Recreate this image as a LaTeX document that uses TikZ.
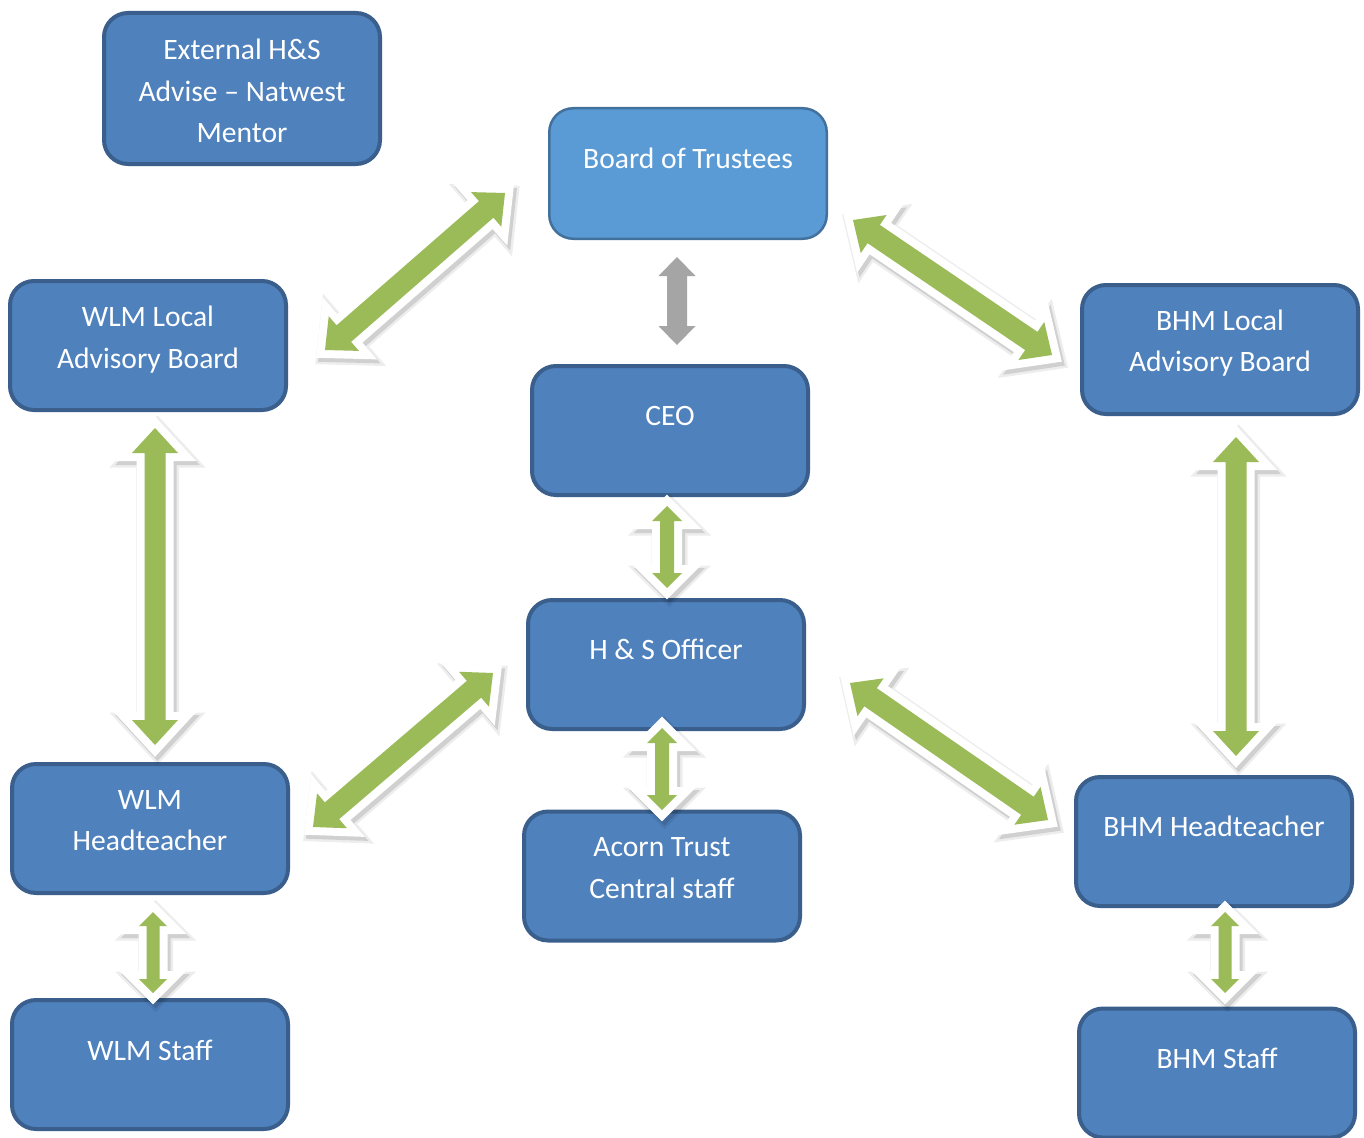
\documentclass[tikz,border=0pt]{standalone}
\usepackage{fontspec}
\setmainfont{Carlito}
\usetikzlibrary{calc}
\definecolor{boxfill}{HTML}{4F81BD}
\definecolor{boxline}{HTML}{3A5F8C}
\definecolor{topfill}{HTML}{5B9BD5}
\definecolor{topline}{HTML}{41719C}
\definecolor{arrgreen}{HTML}{9BBB59}
\definecolor{arrgray}{HTML}{A5A5A5}
% block double arrow between two named coordinates
% #1 from, #2 to, #3 style, #4 head length, #5 head half width, #6 shaft half width
\newcommand\blockarrowpath[6]{%
  \coordinate (tmpP) at ($(#1)!#4!(#2)$);
  \coordinate (tmpQ) at ($(#2)!#4!(#1)$);
  \path[#3] (#1) -- ($(tmpP)!#5!90:(#2)$) -- ($(tmpP)!#6!90:(#2)$)
    -- ($(tmpQ)!#6!-90:(#1)$) -- ($(tmpQ)!#5!-90:(#1)$) -- (#2)
    -- ($(tmpQ)!#5!90:(#1)$) -- ($(tmpQ)!#6!90:(#1)$)
    -- ($(tmpP)!#6!-90:(#2)$) -- ($(tmpP)!#5!-90:(#2)$) -- cycle;}
\newcommand\greenarrow[5]{%
  \blockarrowpath{#1}{#2}{arrshadowA}{#3}{#4}{#5}
  \blockarrowpath{#1}{#2}{arrshadowB}{#3}{#4}{#5}
  \blockarrowpath{#1}{#2}{arroutline}{#3}{#4}{#5}
  \blockarrowpath{#1}{#2}{arrfill}{#3}{#4}{#5}}
\begin{document}
\begin{tikzpicture}[x=1pt,y=-1pt,
  box/.style={draw=boxline, fill=boxfill, line width=4pt, rounded corners=24pt,
    minimum width=276pt, minimum height=129pt, inner sep=0pt},
  topbox/.style={box, draw=topline, fill=topfill, line width=2.5pt,
    minimum width=277.5pt, minimum height=130.5pt},
  txt/.style={text=white, font=\fontsize{29.6}{41.5}\selectfont, align=center,
    inner sep=0pt, execute at begin node=\strut, execute at end node=\strut},
  arrshadowA/.style={draw=black, fill=black, draw opacity=0.07, fill opacity=0.07,
    line width=22pt, line join=miter, transform canvas={shift={(2.5pt,-3.5pt)}}},
  arrshadowB/.style={draw=black, fill=black, draw opacity=0.12, fill opacity=0.12,
    line width=17pt, line join=miter, transform canvas={shift={(2.5pt,-3.5pt)}}},
  arroutline/.style={draw=white, fill=white, line width=16pt, line join=miter},
  arrfill/.style={fill=arrgreen},
  grayarrow/.style={fill=arrgray},
]
\useasboundingbox[fill=white] (0,0) rectangle (1364,1137);

% boxes
\node[box, minimum height=151pt] (ext) at (242,88.5) {};
\node[topbox] (board) at (688,173.5) {};
\node[box] (wlmlocal) at (148,345.5) {};
\node[box] (bhmlocal) at (1220,349.5) {};
\node[box] (ceo) at (670,430.5) {};
\node[box] (hs) at (666,664.5) {};
\node[box] (wlmhead) at (150,828.5) {};
\node[box] (acorn) at (662,876) {};
\node[box] (bhmhead) at (1214,841.5) {};
\node[box] (wlmstaff) at (150,1064.5) {};
\node[box] (bhmstaff) at (1217,1073) {};

% texts
\node[txt] (ext-t) at (242,97) {External H\&S\\Advise – Natwest\\Mentor};
\node[txt] (board-t) at (688,160) {Board of Trustees};
\node[txt] (wlmlocal-t) at (148,343.5) {WLM Local\\Advisory Board};
\node[txt] (bhmlocal-t) at (1220,347) {BHM Local\\Advisory Board};
\node[txt] (ceo-t) at (670,417) {CEO};
\node[txt] (hs-t) at (666,651) {H \& S Officer};
\node[txt] (wlmhead-t) at (150,826.5) {WLM\\Headteacher};
\node[txt] (acorn-t) at (662,874) {Acorn Trust\\Central staff};
\node[txt] (bhmhead-t) at (1214,828) {BHM Headteacher};
\node[txt] (wlmstaff-t) at (150,1052) {WLM Staff};
\node[txt] (bhmstaff-t) at (1217,1060) {BHM Staff};

% arrow end points
\coordinate (a1s) at (325,350);  \coordinate (a1e) at (505,193);
\coordinate (a2s) at (853,220);  \coordinate (a2e) at (1052,355);
\coordinate (a3s) at (677,257);  \coordinate (a3e) at (677,345);
\coordinate (a4s) at (155,428);  \coordinate (a4e) at (155,745);
\coordinate (a5s) at (1236,437); \coordinate (a5e) at (1236,756);
\coordinate (a6s) at (667,506);  \coordinate (a6e) at (667,588);
\coordinate (a7s) at (662,728);  \coordinate (a7e) at (662,810);
\coordinate (a8s) at (313,827);  \coordinate (a8e) at (493,673);
\coordinate (a9s) at (850,683);  \coordinate (a9e) at (1048,820);
\coordinate (a10s) at (153,912); \coordinate (a10e) at (153,993);
\coordinate (a11s) at (1225,912);\coordinate (a11e) at (1225,993);

% arrows
\greenarrow{a1s}{a1e}{25pt}{23pt}{11pt}
\greenarrow{a2s}{a2e}{25pt}{23pt}{11pt}
\blockarrowpath{a3s}{a3e}{grayarrow}{19pt}{18.5pt}{10pt}
\greenarrow{a4s}{a4e}{25pt}{23pt}{10.5pt}
\greenarrow{a5s}{a5e}{25pt}{23pt}{10.5pt}
\greenarrow{a6s}{a6e}{15pt}{15pt}{7pt}
\greenarrow{a7s}{a7e}{15pt}{15pt}{7pt}
\greenarrow{a8s}{a8e}{25pt}{23pt}{11pt}
\greenarrow{a9s}{a9e}{25pt}{23pt}{11pt}
\greenarrow{a10s}{a10e}{14pt}{14pt}{6.5pt}
\greenarrow{a11s}{a11e}{14pt}{14pt}{6.5pt}
\end{tikzpicture}
\end{document}
